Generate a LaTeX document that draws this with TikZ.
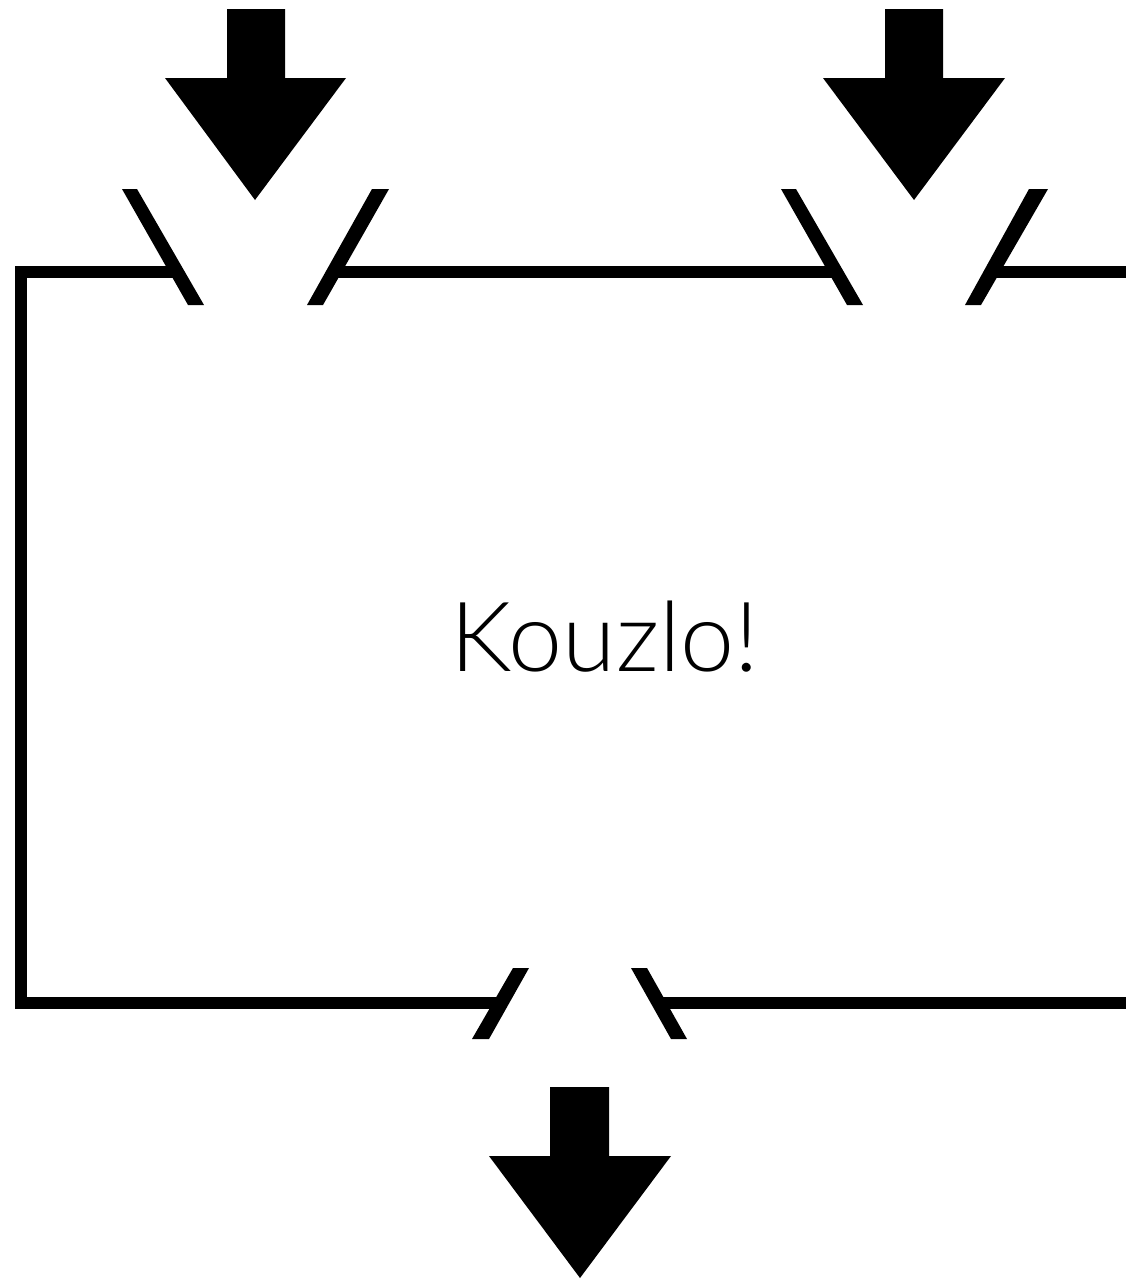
\documentclass[tikz,border=0pt]{standalone}
\usepackage{fontspec}
\newfontfamily\lightfont{Lato Light}
\begin{document}
\begin{tikzpicture}[x=1pt,y=-1pt,
  wall/.style={line width=12pt,line cap=butt,line join=miter},
  slash/.style={fill=black},
  bigarrow/.style={fill=black}]
\useasboundingbox (0,0) rectangle (1126,1280);
% box outline
\draw[wall] (177,272) -- (21,272) -- (21,1003) -- (501,1003);
\draw[wall] (333,272) -- (836,272);
\draw[wall] (990,272) -- (1126,272);
\draw[wall] (659,1003) -- (1126,1003);
% top-left opening slashes
\fill[slash] (122,189) -- (137,189) -- (204,305) -- (188,305) -- cycle;
\fill[slash] (372,189) -- (389,189) -- (323,305) -- (307,305) -- cycle;
% top-right opening slashes
\fill[slash] (781,189) -- (796,189) -- (863,305) -- (847,305) -- cycle;
\fill[slash] (1029,189) -- (1048,189) -- (981,305) -- (965,305) -- cycle;
% bottom opening slashes
\fill[slash] (513,968) -- (529,968) -- (489,1039) -- (472,1039) -- cycle;
\fill[slash] (631,968) -- (647,968) -- (687,1039) -- (671,1039) -- cycle;
% arrows
\fill[bigarrow] (227,9) -- (285,9) -- (285,78) -- (346,78) -- (255,200) -- (165,78) -- (227,78) -- cycle;
\fill[bigarrow] (885,9) -- (943,9) -- (943,78) -- (1005,78) -- (914,200) -- (823,78) -- (885,78) -- cycle;
\fill[bigarrow] (550,1087) -- (609,1087) -- (609,1156) -- (671,1156) -- (580,1278) -- (489,1156) -- (550,1156) -- cycle;
% label
\node (label) at (605,637) {\lightfont\fontsize{97}{100}\selectfont Kouzlo!};
\end{tikzpicture}
\end{document}
